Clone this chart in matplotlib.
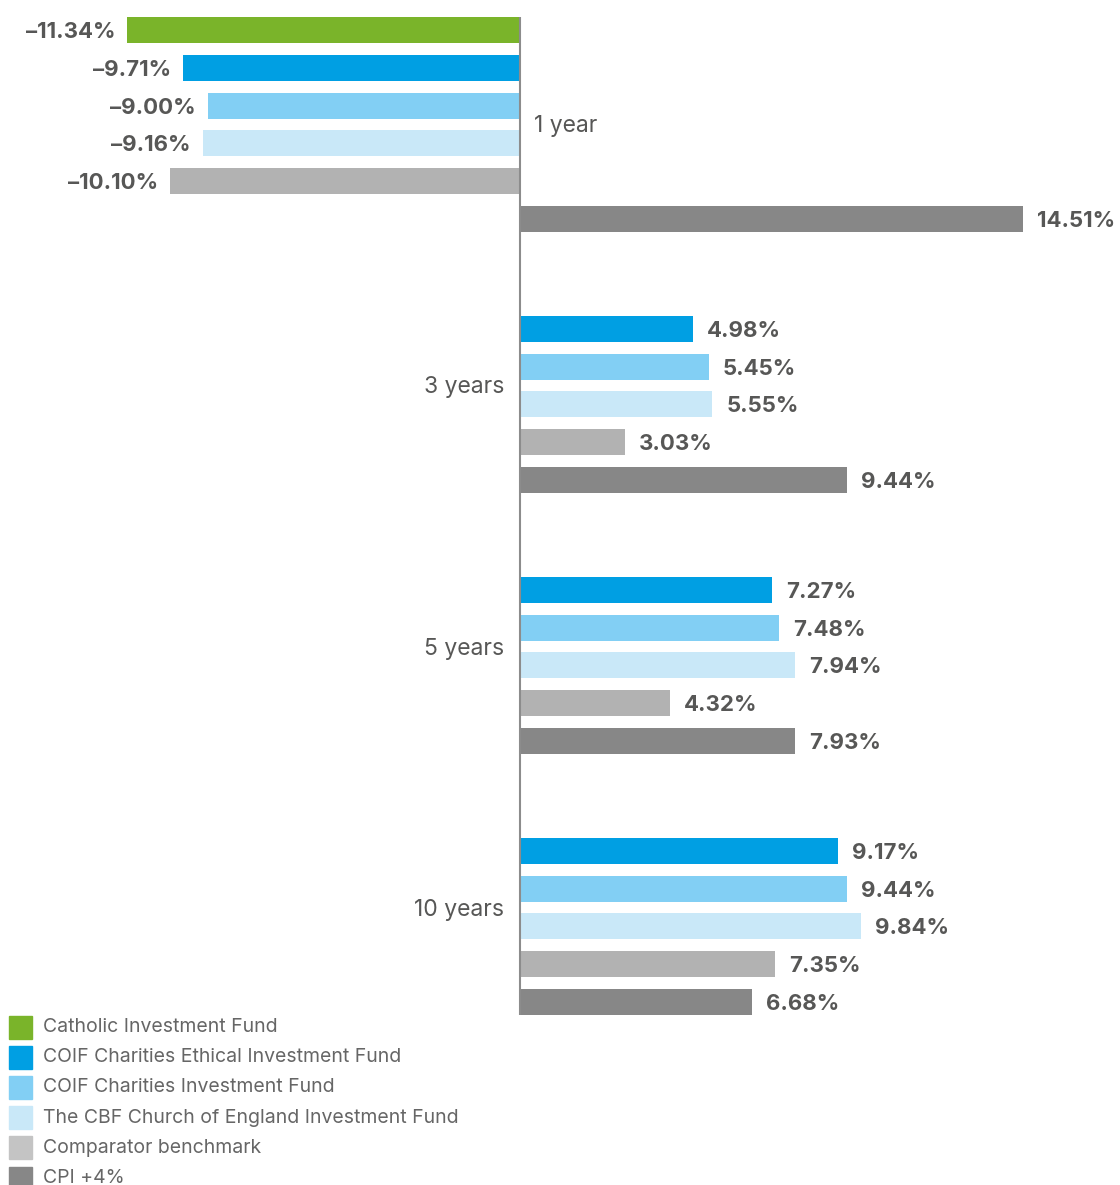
import numpy as np
import matplotlib
matplotlib.use('Agg')
from matplotlib import pyplot as plt
from matplotlib.patches import Rectangle

plt.rcParams['font.family'] = ['Inter', 'DejaVu Sans']

# data
periods = ['1 year', '3 years', '5 years', '10 years']
series = ['Catholic Investment Fund',
          'COIF Charities Ethical Investment Fund',
          'COIF Charities Investment Fund',
          'The CBF Church of England Investment Fund',
          'Comparator benchmark',
          'CPI +4%']
catholic = [-11.34, np.nan, np.nan, np.nan]
coif_ethical = [-9.71, 4.98, 7.27, 9.17]
coif = [-9.00, 5.45, 7.48, 9.44]
cbf = [-9.16, 5.55, 7.94, 9.84]
benchmark = [-10.10, 3.03, 4.32, 7.35]
cpi = [14.51, 9.44, 7.93, 6.68]
values = [catholic, coif_ethical, coif, cbf, benchmark, cpi]

colors = ['#7ab42a', '#009fe3', '#82cff4', '#c9e8f8', '#b2b2b2', '#878787']
legend_colors = ['#7ab42a', '#009fe3', '#82cff4', '#c9e8f8', '#c4c4c4', '#878787']
txt_color = '#575756'

fig = plt.figure(figsize=(11.2, 11.85), dpi=100)
ax = fig.add_axes([127/1120, 1 - 1015/1185, 896/1120, 998/1185])

step = 0.1448
bar_h = 0.0996
y0 = np.arange(len(periods))

for j, (vals, c) in enumerate(zip(values, colors)):
    ys = y0 + (j - 2.5) * step
    ax.barh(ys, vals, height=bar_h, color=c, zorder=2)
    for y, v in zip(ys, vals):
        if np.isnan(v):
            continue
        if v >= 0:
            ax.annotate(f'{v:.2f}%', (v, y), xytext=(14, -2), textcoords='offset pixels',
                        ha='left', va='center', fontsize=16, fontweight='bold', color=txt_color)
        else:
            ax.annotate(f'{v:.2f}%'.replace('-', '–'), (v, y), xytext=(-12, -2), textcoords='offset pixels',
                        ha='right', va='center', fontsize=16, fontweight='bold', color=txt_color)

# category labels
for y, p, cv in zip(y0, periods, catholic):
    if not np.isnan(cv):
        ax.annotate(p, (0, y), xytext=(14, -2), textcoords='offset pixels',
                    ha='left', va='center', fontsize=16.5, color=txt_color)
    else:
        ax.annotate(p, (0, y), xytext=(-16, -2), textcoords='offset pixels',
                    ha='right', va='center', fontsize=16.5, color=txt_color)

allv = np.array(values, dtype=float)
ax.set_xlim(np.nanmin(allv), np.nanmax(allv))
ax.set_ylim(y0[-1] + 2.5 * step + bar_h / 2, y0[0] - 2.5 * step - bar_h / 2)
ax.axvline(0, color='#8c8c8c', lw=1.5, zorder=3)
ax.axis('off')

# legend
for i, (name, c) in enumerate(zip(series, legend_colors)):
    yc = 1027 + i * 30.2
    fig.add_artist(Rectangle((9/1120, 1 - (yc + 11.5)/1185), 23/1120, 23/1185,
                             transform=fig.transFigure, color=c))
    fig.text(43/1120, 1 - yc/1185, name, ha='left', va='center', fontsize=14, color='#666666')

fig.savefig('out.png', dpi=100)
